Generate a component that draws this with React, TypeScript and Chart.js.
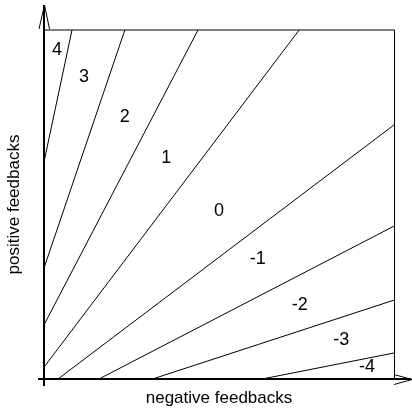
import React, { useEffect, useRef } from "react";
import { Chart, registerables } from "chart.js";

Chart.register(...registerables);

// Boundary lines between regions (normalized feedback units, 0..1)
const lineStartX = [0.08, 0.231, 0.44, 0.729, 0.04, 0.157, 0.31, 0.623];
const lineStartY = [1, 1, 1, 1, 0, 0, 0, 0];
const lineEndX = [0, 0, 0, 0, 1, 1, 1, 1];
const lineEndY = [0.622, 0.318, 0.155, 0.034, 0.728, 0.438, 0.226, 0.0745];

// Region labels
const regionLabels = ["4", "3", "2", "1", "0", "-1", "-2", "-3", "-4"];
const labelX = [0.037, 0.114, 0.231, 0.349, 0.5, 0.611, 0.731, 0.849, 0.923];
const labelY = [0.943, 0.865, 0.751, 0.633, 0.481, 0.344, 0.212, 0.112, 0.034];

const xTitle = "negative feedbacks";
const yTitle = "positive feedbacks";

const FONT = "'Liberation Sans', Arial, sans-serif";

const decorPlugin = {
  id: "decor",
  afterDraw(chart: any) {
    const { ctx, chartArea, scales } = chart;
    const { left, right, top, bottom } = chartArea;
    ctx.save();
    // top & right box edges
    ctx.strokeStyle = "#000";
    ctx.lineWidth = 1;
    ctx.beginPath();
    ctx.moveTo(left, top);
    ctx.lineTo(right + 0.5, top);
    ctx.stroke();
    ctx.beginPath();
    ctx.moveTo(right + 0.5, top);
    ctx.lineTo(right + 0.5, bottom);
    ctx.stroke();
    // axes
    ctx.lineWidth = 2;
    ctx.beginPath();
    ctx.moveTo(left, bottom + 7);
    ctx.lineTo(left, 5);
    ctx.stroke();
    ctx.beginPath();
    ctx.moveTo(left - 6, bottom);
    ctx.lineTo(411, bottom);
    ctx.stroke();
    // arrowheads
    ctx.lineWidth = 1;
    ctx.beginPath();
    ctx.moveTo(left - 5, 29);
    ctx.lineTo(left + 0.5, 5);
    ctx.lineTo(left + 5.5, 29);
    ctx.stroke();
    ctx.beginPath();
    ctx.moveTo(394, bottom - 4.5);
    ctx.lineTo(412, bottom + 0.5);
    ctx.lineTo(394, bottom + 5.5);
    ctx.stroke();
    // region labels
    ctx.fillStyle = "#000";
    ctx.font = `18px ${FONT}`;
    ctx.textAlign = "center";
    ctx.textBaseline = "middle";
    regionLabels.forEach((t, i) => {
      ctx.fillText(t, scales.x.getPixelForValue(labelX[i]), scales.y.getPixelForValue(labelY[i]));
    });
    ctx.restore();
  },
};

export default function App() {
  const ref = useRef<HTMLCanvasElement>(null);
  useEffect(() => {
    if (!ref.current) return;
    const datasets = lineStartX.map((_, i) => ({
      data: [
        { x: lineStartX[i], y: lineStartY[i] },
        { x: lineEndX[i], y: lineEndY[i] },
      ],
      showLine: true,
      borderColor: "#000",
      borderWidth: 1,
      pointRadius: 0,
      clip: false as any,
    }));
    const chart = new Chart(ref.current, {
      type: "scatter",
      data: { datasets },
      plugins: [decorPlugin],
      options: {
        responsive: false,
        animation: false,
        events: [],
        layout: { padding: { top: 30, right: 18, left: 0, bottom: 0 } },
        plugins: { legend: { display: false }, tooltip: { enabled: false } },
        scales: {
          x: {
            type: "linear",
            min: 0,
            max: 1,
            grid: { display: false },
            border: { display: false },
            ticks: { display: false },
            title: {
              display: true,
              text: xTitle,
              color: "#000",
              font: { family: FONT, size: 17 },
              padding: { top: 0, bottom: 3 },
            },
            afterFit: (s: any) => {
              s.height = 33;
            },
          },
          y: {
            type: "linear",
            min: 0,
            max: 1,
            grid: { display: false },
            border: { display: false },
            ticks: { display: false },
            title: {
              display: true,
              text: yTitle,
              color: "#000",
              font: { family: FONT, size: 17 },
              padding: { top: 4, bottom: 0 },
            },
            afterFit: (s: any) => {
              s.width = 44;
            },
          },
        },
      },
    });
    return () => chart.destroy();
  }, []);
  return (
    <div style={{ position: "fixed", left: 0, top: 0, width: 412, height: 412 }}>
      <canvas ref={ref} width={412} height={412} style={{ display: "block" }} />
    </div>
  );
}
